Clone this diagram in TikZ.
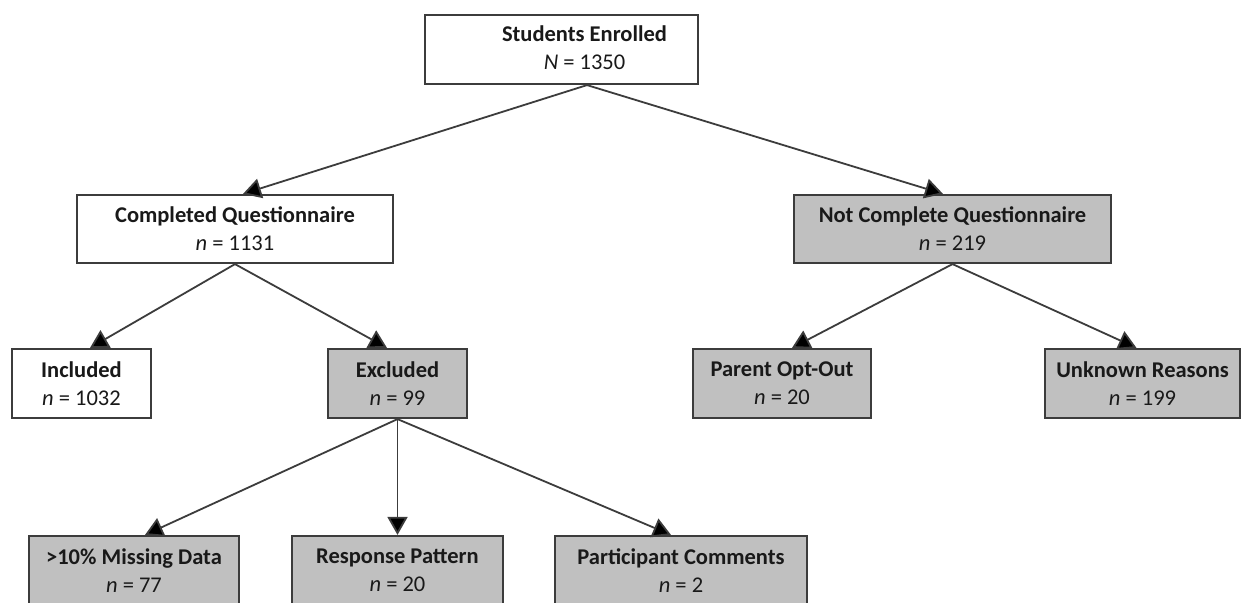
\documentclass[tikz,border=0pt]{standalone}
\usepackage{fontspec}
\setmainfont{Carlito}
\usetikzlibrary{arrows.meta}
\definecolor{boxgray}{RGB}{192,192,192}
\definecolor{edgegray}{RGB}{60,60,60}
\definecolor{txt}{RGB}{25,25,25}
\newcommand{\twoline}[3]{\textbf{#1}\\\textit{#2} = #3}
\begin{document}
\begin{tikzpicture}[x=1pt,y=-1pt,
  box/.style={draw=edgegray, line width=2.2pt, fill=white, align=center, inner sep=0pt,
              text=txt, font=\fontsize{22.5}{28}\selectfont},
  greybox/.style={box, fill=boxgray},
  arr/.style={draw=edgegray, line width=1.8pt, -{Triangle[length=18pt,width=20pt,fill=black]}}]
\fill[white] (0,0) rectangle (1246,602);
\clip (0,0) rectangle (1246,602);
% row 1
\node[box, minimum width=273pt, minimum height=69pt] (se) at (561.5,49.5)
  {\hspace*{46pt}\begin{tabular}{@{}c@{}}\textbf{Students Enrolled}\\\textit{N} = 1350\end{tabular}};
% row 2
\node[box, minimum width=316pt, minimum height=68pt] (cq) at (235,229)
  {\twoline{Completed Questionnaire}{n}{1131}};
\node[greybox, minimum width=317pt, minimum height=68pt] (nc) at (952.5,229)
  {\twoline{Not Complete Questionnaire}{n}{219}};
% row 3
\node[box, minimum width=139pt, minimum height=69pt] (inc) at (81.5,383.5)
  {\twoline{Included}{n}{1032}};
\node[greybox, minimum width=139pt, minimum height=69pt] (exc) at (397.5,383.5)
  {\twoline{Excluded}{n}{99}};
\node[greybox, minimum width=178pt, minimum height=69pt] (poo) at (782,383.5)
  {\twoline{Parent Opt-Out}{n}{20}};
\node[greybox, minimum width=195pt, minimum height=69pt] (unk) at (1142.5,383.5)
  {\twoline{Unknown Reasons}{n}{199}};
% row 4
\node[greybox, minimum width=210pt, minimum height=69pt] (mis) at (134,570.5)
  {\twoline{>10\% Missing Data}{n}{77}};
\node[greybox, minimum width=211pt, minimum height=69pt] (rp) at (397.5,570.5)
  {\twoline{Response Pattern}{n}{20}};
\node[greybox, minimum width=252pt, minimum height=69pt] (pc) at (681,570.5)
  {\twoline{Participant Comments}{n}{2}};
% connectors
\draw[arr] ([xshift=25.5pt]se.south) -- ([xshift=8pt]cq.north);
\draw[arr] ([xshift=25.5pt]se.south) -- ([xshift=-9.5pt]nc.north);
\draw[arr] (cq.south) -- ([xshift=8.5pt]inc.north);
\draw[arr] (cq.south) -- ([xshift=-10.5pt]exc.north);
\draw[arr] (nc.south) -- ([xshift=10pt]poo.north);
\draw[arr] (nc.south) -- ([xshift=-6pt]unk.north);
\draw[arr] (exc.south) -- ([xshift=11pt]mis.north);
\draw[arr] (exc.south) -- (rp.north);
\draw[arr] (exc.south) -- ([xshift=-10pt]pc.north);
\end{tikzpicture}
\end{document}
